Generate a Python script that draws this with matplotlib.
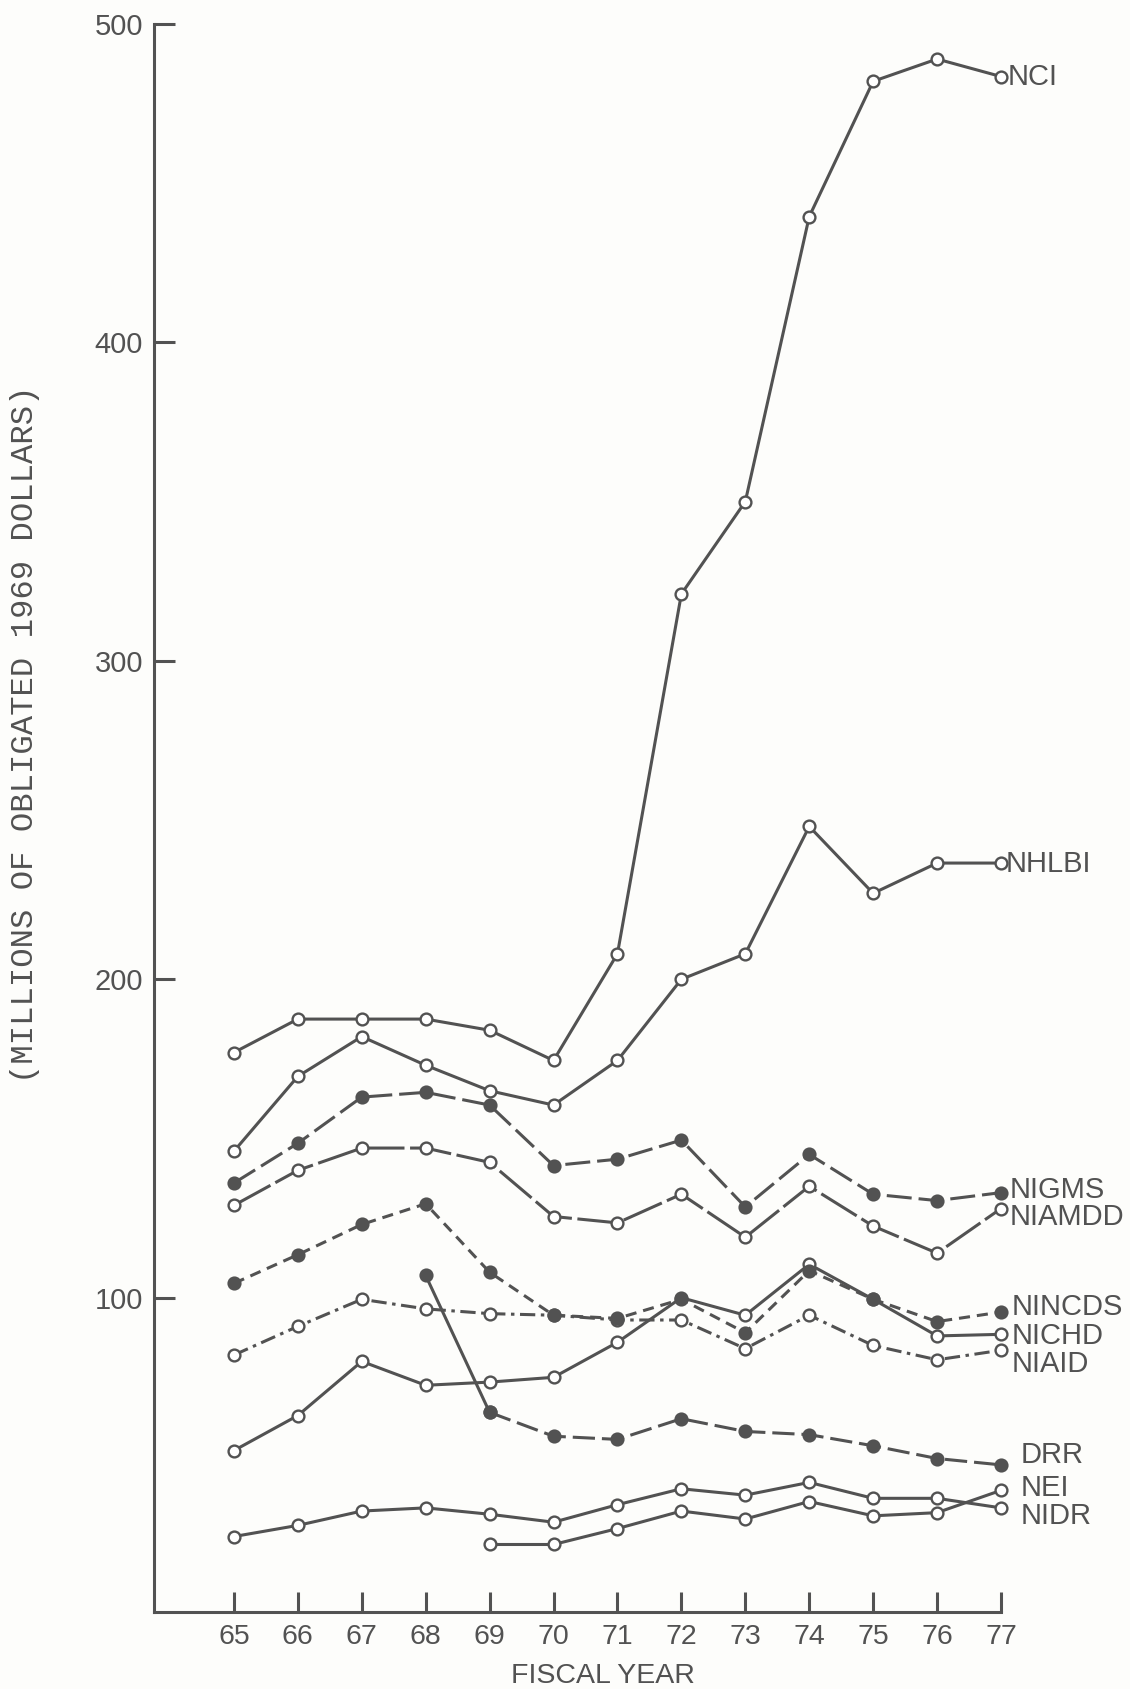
import matplotlib
matplotlib.use("Agg")
import matplotlib.pyplot as plt

# ---------------- data (millions of obligated 1969 dollars) ----------------
years = [65, 66, 67, 68, 69, 70, 71, 72, 73, 74, 75, 76, 77]
nci    = [177, 187.5, 187.5, 187.5, 184, 174.5, 208, 321, 350, 439.5, 482, 489, 483.5]
nhlbi  = [146, 169.5, 182, 173, 165, 160.5, 174.5, 200, 208, 248, 227, 236.5, 236.5]
nigms  = [136, 148.5, 163, 164.5, 160.5, 141.5, 143.5, 149.5, 128.5, 145, 132.5, 130.5, 133]
niamdd = [129, 140, 147, 147, 142.5, 125.5, 123.5, 132.5, 119, 135, 122.5, 114, 128]
nincds = [104.5, 113.5, 123, 129.5, 108, 94.5, 93.5, 99.5, 89, 108.5, 99.5, 92.5, 95.5]
nichd  = [52, 63, 80, 72.5, 73.5, 75, 86, 100, 94.5, 110.5, 99.5, 88, 88.5]
niaid  = [82, 91, 99.5, 96.5, 95, 94.5, 93, 93, 84, 94.5, 85, 80.5, 83.5]
drr_years = [68, 69, 70, 71, 72, 73, 74, 75, 76, 77]
drr    = [107, 64, 56.5, 55.5, 62, 58, 57, 53.5, 49.5, 47.5]
nei_years = [69, 70, 71, 72, 73, 74, 75, 76, 77]
nei    = [22.5, 22.5, 27.5, 33, 30.5, 36, 31.5, 32.5, 39.5]
nidr   = [25, 28.5, 33, 34, 32, 29.5, 35, 40, 38, 42, 37, 37, 34]

yticks = [100, 200, 300, 400, 500]
labels = ["NCI", "NHLBI", "NIGMS", "NIAMDD", "NINCDS", "NICHD", "NIAID", "DRR", "NEI", "NIDR"]

# ---------------- layout / style ----------------
label_x = [77.1, 77.08, 77.13, 77.13, 77.16, 77.16, 77.16, 77.3, 77.3, 77.3]
label_y = [483.4, 236.2, 133.8, 125.3, 97.0, 87.9, 79.1, 50.6, 40.2, 31.4]

C = "#525252"
BG = "#fdfdfb"
plt.rcParams["font.family"] = ["Liberation Sans", "DejaVu Sans"]
plt.rcParams["lines.scale_dashes"] = False

W, H = 1130, 1689
fig = plt.figure(figsize=(W / 100, H / 100), dpi=100, facecolor=BG)
ax = fig.add_axes([154 / W, 77 / H, 847 / W, 1588 / H])
ax.set_facecolor("none")
ax.set_xlim(63.75, 77)
ax.set_ylim(1.3, 500)

for s in ("top", "right"):
    ax.spines[s].set_visible(False)
for s in ("left", "bottom"):
    ax.spines[s].set_linewidth(2.2)
    ax.spines[s].set_color(C)
ax.spines["bottom"].set_bounds(63.75, 77)

ax.set_xticks(years)
ax.set_xticklabels([str(y) for y in years])
ax.set_yticks(yticks)
ax.set_yticklabels([str(v) for v in yticks])
ax.tick_params(axis="x", direction="in", length=14.5, width=2.2, pad=8.5,
               labelsize=20.5, color=C, labelcolor=C)
ax.tick_params(axis="y", direction="in", length=15, width=2.2, pad=8,
               labelsize=21, color=C, labelcolor=C)


def series(x, y, filled, ls="-"):
    ax.plot(x, y, color=C, lw=2.2, linestyle=ls, marker="o", ms=8.5, mew=1.7,
            mec=C, mfc=C if filled else "white", clip_on=False, zorder=3,
            solid_capstyle="butt", dash_capstyle="butt")


series(years, nidr, False)
series(nei_years, nei, False)
# DRR: first segment solid, remainder dashed
series(drr_years[:2], drr[:2], True)
series(drr_years[1:], drr[1:], True, (0, (16, 5)))
series(years, niaid, False, (0, (11, 4, 2.5, 4)))
series(years, nichd, False)
series(years, nincds, True, (0, (8, 5)))
series(years, niamdd, False, (0, (30, 4)))
series(years, nigms, True, (0, (18, 5)))
series(years, nhlbi, False)
series(years, nci, False)

for lx, ly, name in zip(label_x, label_y, labels):
    ax.text(lx, ly, name, fontsize=21, color=C, ha="left", va="center",
            clip_on=False)

fig.text(603 / W, 1 - 1676 / H, "FISCAL YEAR", fontsize=20.5, color=C,
         ha="center", va="center")
fig.text(25 / W, 1 - 734 / H, "(MILLIONS OF OBLIGATED 1969 DOLLARS)",
         fontsize=23.2, color=C, ha="center", va="center", rotation=90,
         family=["Liberation Mono", "DejaVu Sans Mono"])

fig.savefig("out.png", dpi=100, facecolor=BG)
